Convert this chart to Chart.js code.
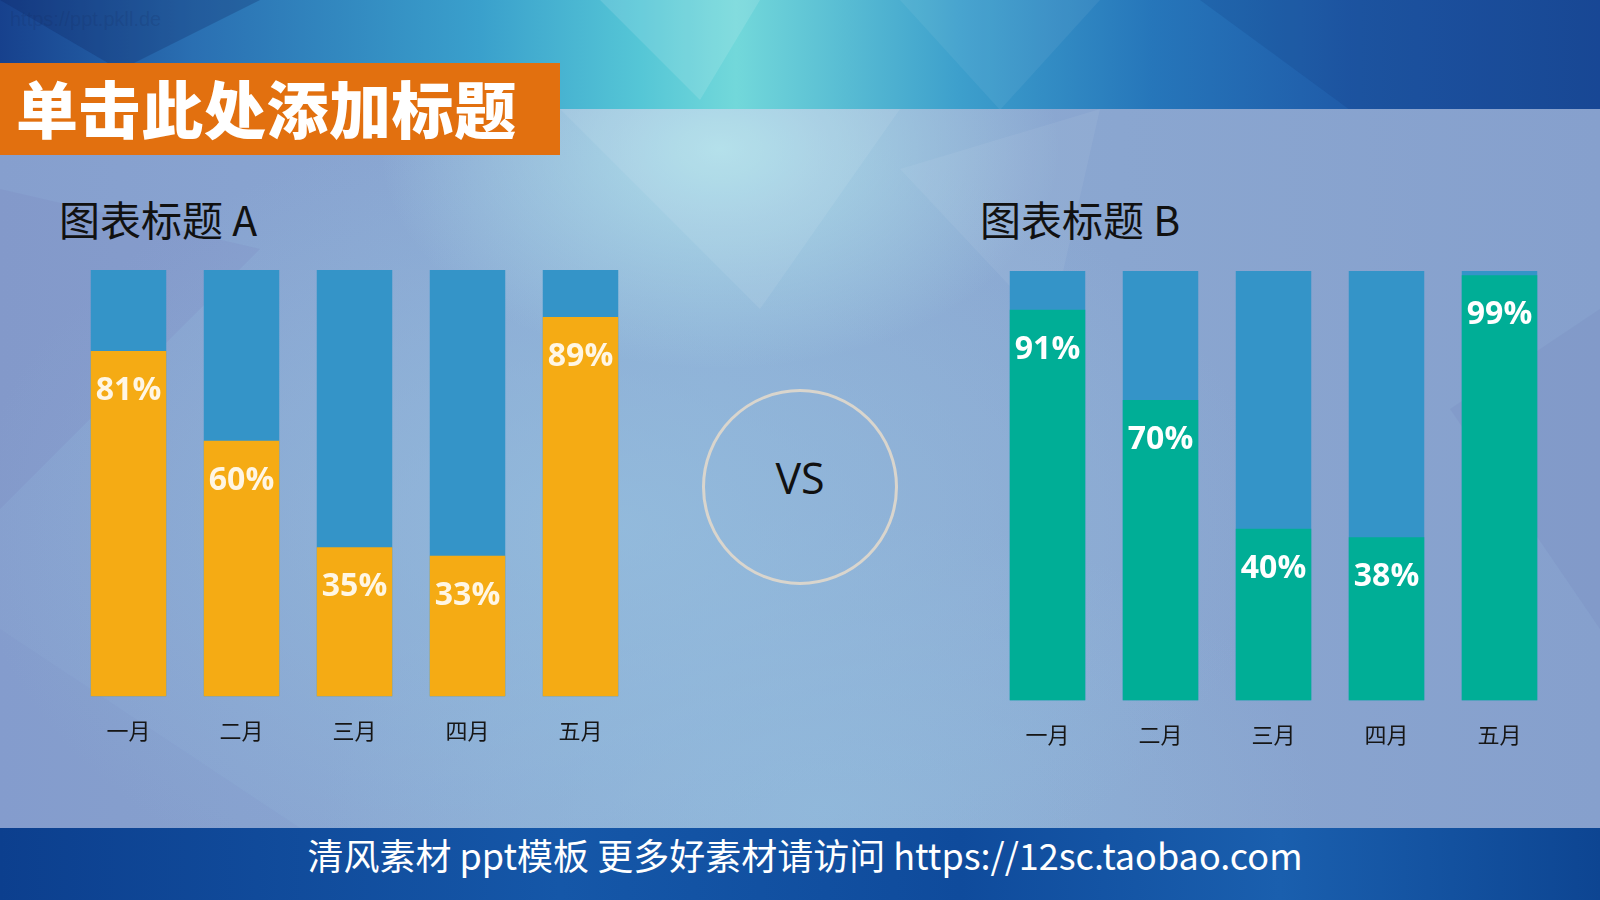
<!DOCTYPE html>
<html>
<head>
<meta charset="utf-8">
<script src="https://cdn.jsdelivr.net/npm/chart.js@4.4.1/dist/chart.umd.min.js"></script>
<style>
  html, body { margin: 0; padding: 0; }
  body {
    width: 1600px; height: 900px; position: relative; overflow: hidden;
    font-family: "Noto Sans CJK SC", "Noto Sans", sans-serif;
    background: linear-gradient(90deg, #17418d 0%, #2a6fb2 12%, #3aa0cc 30%, #55c6d6 40%, #72d8da 46%, #3d9fcc 60%, #2676ba 72%, #1f5aa8 85%, #1b4d9c 100%);
  }
  .band { position: absolute; left: 0; top: 109px; width: 1600px; height: 719px;
    background:
      radial-gradient(ellipse 340px 220px at 720px 40px, rgba(178,228,236,0.9), rgba(178,228,236,0) 100%),
      radial-gradient(ellipse 650px 420px at 620px 420px, rgba(148,190,222,0.8), rgba(148,190,222,0) 100%),
      radial-gradient(ellipse 500px 300px at 820px 700px, rgba(145,186,220,0.75), rgba(145,186,220,0) 100%),
      linear-gradient(90deg, #869fce 0%, #8cabd4 45%, #8aa6d0 70%, #86a0cd 100%);
  }
  .poly { position: absolute; left: 0; top: 0; }
  .watermark { position: absolute; left: 10px; top: 8px; font: 20px "Liberation Sans", sans-serif; color: rgba(20,40,90,0.18); }
  .titlebar { position: absolute; left: 0; top: 63px; width: 560px; height: 92px; background: #e2700f; }
  .titlebar span { position: absolute; left: 16px; top: 50%; transform: translateY(-52%);
    font-size: 62px; font-weight: 900; color: #fff; letter-spacing: 0.6px; white-space: nowrap; }
  .ctitle { position: absolute; font-size: 41px; color: #111; white-space: nowrap; line-height: 1; }
  .vs { position: absolute; left: 702px; top: 389px; width: 196px; height: 196px; border-radius: 50%;
    border: 3px solid #d9d5cd; box-sizing: border-box; }
  .vs span { position: absolute; left: 0; right: 0; top: 64px; text-align: center;
    font: 43px "Open Sans", sans-serif; color: #111; line-height: 1; }
  .footer { position: absolute; left: 0; top: 828px; width: 1600px; height: 72px;
    background: linear-gradient(90deg, #0c3f8e 0%, #1557a8 35%, #0f4b9c 60%, #1a5fae 80%, #0d4592 100%); }
  .footer span { position: absolute; left: 0; right: 0; top: 5px; text-align: center; padding-left: 10px;
    font-size: 36px; color: #fff; white-space: nowrap; line-height: 1.2; }
  canvas { position: absolute; }
</style>
</head>
<body>
<svg class="poly" width="1600" height="900">
  <polygon points="0,0 260,0 120,70" fill="rgba(10,30,90,0.25)"/>
  <polygon points="600,0 760,0 700,100" fill="rgba(255,255,255,0.12)"/>
  <polygon points="1200,0 1600,0 1600,110 1350,110" fill="rgba(10,30,100,0.12)"/>
  <polygon points="900,0 1100,0 1000,110" fill="rgba(255,255,255,0.06)"/>
</svg>
<div class="band">
  <svg width="1600" height="719">
    <polygon points="0,80 260,140 0,400" fill="rgba(120,130,190,0.18)"/>
    <polygon points="560,0 900,0 760,200" fill="rgba(255,255,255,0.08)"/>
    <polygon points="900,60 1100,0 1050,220" fill="rgba(255,255,255,0.06)"/>
    <polygon points="1450,300 1600,200 1600,520" fill="rgba(110,120,180,0.15)"/>
    <polygon points="0,520 300,719 0,719" fill="rgba(120,140,200,0.12)"/>
  </svg>
</div>
<div class="watermark">https://ppt.pkll.de</div>
<div class="titlebar"><span>单击此处添加标题</span></div>
<div class="ctitle" style="left:59px; top:198px;">图表标题 A</div>
<div class="ctitle" style="left:980px; top:198px;">图表标题 B</div>
<div class="vs"><span>VS</span></div>
<canvas id="chartA" width="565" height="495" style="left:72px; top:270px;"></canvas>
<canvas id="chartB" width="565" height="498" style="left:991px; top:271px;"></canvas>
<div class="footer"><span>清风素材 ppt模板 更多好素材请访问 https://12sc.taobao.com</span></div>

<script>
// Categories and values
const months = ['一月', '二月', '三月', '四月', '五月'];
const valuesA = [81, 60, 35, 33, 89];
const valuesB = [91, 70, 40, 38, 99];
// full-height track behind each bar
const fullScale = [100, 100, 100, 100, 100];

// Draws the percentage text just inside the top of each value bar
const percentLabels = {
    id: 'percentLabels',
    afterDatasetsDraw(chart, args, opts) {
        const ctx = chart.ctx;
        const meta = chart.getDatasetMeta(0);
        ctx.save();
        ctx.font = 'bold 32px "Open Sans", "Noto Sans", sans-serif';
        ctx.fillStyle = opts.color;
        ctx.textAlign = 'center';
        ctx.textBaseline = 'middle';
        meta.data.forEach((bar, i) => {
            ctx.fillText(chart.data.datasets[0].data[i] + '%', bar.x, bar.y + 40);
        });
        ctx.restore();
    }
};

function createChart(id, values, color, labelColor) {
    const ctx = document.getElementById(id).getContext('2d');
    new Chart(ctx, {
        type: 'bar',
        data: {
            labels: months,
            datasets: [{
                data: values,
                backgroundColor: color,
                grouped: false,
                barPercentage: 0.668,
                categoryPercentage: 1
            }, {
                data: fullScale,
                backgroundColor: '#3494c8',
                grouped: false,
                barPercentage: 0.668,
                categoryPercentage: 1
            }]
        },
        options: {
            responsive: false,
            animation: false,
            devicePixelRatio: 1,
            layout: { padding: 0 },
            plugins: {
                legend: { display: false },
                tooltip: { enabled: false },
                percentLabels: { color: labelColor }
            },
            scales: {
                x: {
                    grid: { display: false, drawTicks: false },
                    border: { display: false },
                    ticks: {
                        padding: 21,
                        color: '#161616',
                        font: { size: 22, family: '"Noto Sans CJK SC", sans-serif' }
                    }
                },
                y: {
                    display: false,
                    min: 0,
                    max: 100
                }
            }
        },
        plugins: [percentLabels]
    });
}

window.onload = function () {
    createChart('chartA', valuesA, '#f5ab14', '#fff6e4');
    createChart('chartB', valuesB, '#00ae96', '#ffffff');
};
</script>
</body>
</html>
